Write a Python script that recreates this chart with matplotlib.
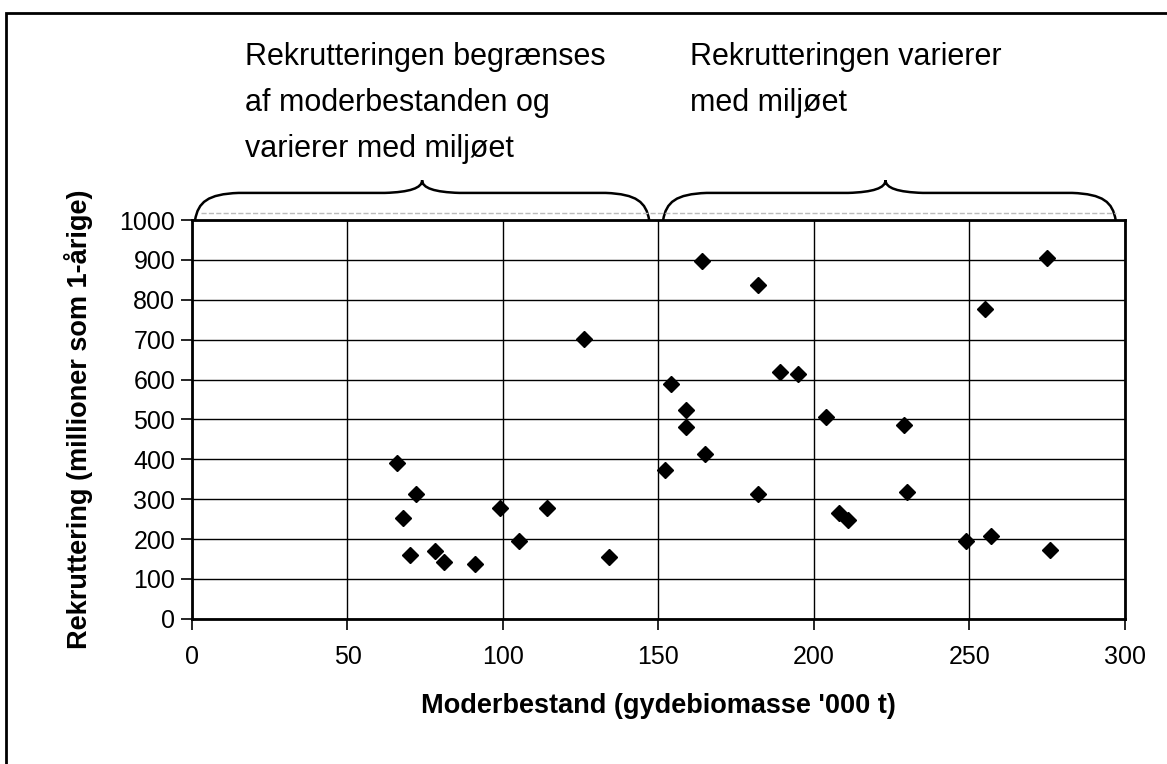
import numpy as np
import matplotlib
matplotlib.use("Agg")
import matplotlib.pyplot as plt
from matplotlib.path import Path
from matplotlib.patches import PathPatch, Rectangle

plt.rcParams['font.family'] = ['Liberation Sans', 'DejaVu Sans']

# spawning stock ('000 t) and recruitment (millions of 1-year-olds)
gydebiomasse = [66, 68, 70, 72, 78, 81, 91, 99, 105, 114, 126, 134,
                152, 154, 159, 159, 164, 165, 182, 182, 189, 195, 204,
                208, 211, 229, 230, 249, 255, 257, 275, 276]
rekruttering = [390, 254, 160, 313, 170, 142, 138, 277, 195, 277, 702, 155,
                372, 589, 524, 481, 897, 413, 837, 313, 618, 614, 506,
                266, 248, 486, 319, 195, 777, 208, 906, 173]

x_ticks = [0, 50, 100, 150, 200, 250, 300]
y_ticks = [0, 100, 200, 300, 400, 500, 600, 700, 800, 900, 1000]

# (start, centre, end) of the two braces above the plot
braces = [(1, 74, 147), (151.5, 223, 297)]
brace_texts = ["Rekrutteringen begrænses\naf moderbestanden og\nvarierer med miljøet",
               "Rekrutteringen varierer\nmed miljøet"]


def brace_path(x0, xc, x1, y0=1000, h=68, peak=100):
    verts = [(x0, y0),
             (x0 + 1, y0 + 45), (x0 + 4, y0 + h - 3), (x0 + 14, y0 + h),
             (xc - 12, y0 + h),
             (xc - 4, y0 + h + 2), (xc, y0 + h + 12), (xc, y0 + peak),
             (xc, y0 + h + 12), (xc + 4, y0 + h + 2), (xc + 12, y0 + h),
             (x1 - 14, y0 + h),
             (x1 - 4, y0 + h - 3), (x1 - 1, y0 + 45), (x1, y0)]
    codes = [Path.MOVETO,
             Path.CURVE4, Path.CURVE4, Path.CURVE4,
             Path.LINETO,
             Path.CURVE4, Path.CURVE4, Path.CURVE4,
             Path.CURVE4, Path.CURVE4, Path.CURVE4,
             Path.LINETO,
             Path.CURVE4, Path.CURVE4, Path.CURVE4]
    return Path(verts, codes)


fig = plt.figure(figsize=(11.67, 7.64), dpi=100)
ax = fig.add_axes([0.1645, 0.19, 0.7995, 0.522])

ax.plot(gydebiomasse, rekruttering, linestyle='none', marker='D',
        markersize=8.5, color='black', zorder=3)

ax.set_xlim(0, 300)
ax.set_ylim(0, 1000)
ax.set_xticks(x_ticks)
ax.set_yticks(y_ticks)
ax.grid(True, color='black', linewidth=1.0)
ax.set_axisbelow(True)
for s in ax.spines.values():
    s.set_linewidth(2)
ax.tick_params(axis='x', direction='out', length=8, width=1.2, pad=11, labelsize=18)
ax.tick_params(axis='y', direction='out', length=8, width=1.2, pad=4, labelsize=18)

ax.set_xlabel("Moderbestand (gydebiomasse '000 t)", fontsize=19.5,
              fontweight='bold', labelpad=17)
ax.set_ylabel("Rekruttering (millioner som 1-årige)", fontsize=19.5,
              fontweight='bold', labelpad=19)

# braces and a faint dashed line under them
for (x0, xc, x1) in braces:
    ax.add_patch(PathPatch(brace_path(x0, xc, x1), facecolor='none',
                           edgecolor='black', linewidth=1.8, clip_on=False))
ax.plot([3, 297], [1018, 1018], color='#bbbbbb', linestyle='--',
        linewidth=1, clip_on=False)

fig.text(245 / 1167, 0.945, brace_texts[0], fontsize=22, va='top',
         ha='left', linespacing=1.7)
fig.text(690 / 1167, 0.945, brace_texts[1], fontsize=22, va='top',
         ha='left', linespacing=1.7)

# frame round the figure
fig.patches.append(Rectangle((0.005, -0.1), 1.2, 0.1 + 0.983,
                             transform=fig.transFigure, fill=False,
                             edgecolor='black', linewidth=2))

fig.savefig('out.png', dpi=100)
